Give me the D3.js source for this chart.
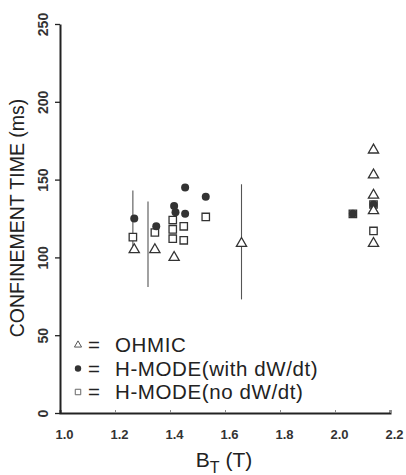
<!DOCTYPE html>
<html>
<head>
<meta charset="utf-8">
<script src="https://cdn.jsdelivr.net/npm/d3@7"></script>
<style>
body { margin: 0; background: #fff; }
svg { font-family: "Liberation Sans", Arial, sans-serif; }
</style>
</head>
<body>
<svg width="406" height="475"></svg>
<script>
var svg = d3.select("svg");

// data
var ohmicB = [1.27, 1.345, 1.415, 1.66, 2.14, 2.14, 2.14, 2.14, 2.14];
var ohmicT = [105, 105, 100, 109, 169, 153, 140, 130, 109];

var dwB = [1.27, 1.35, 1.415, 1.42, 1.455, 1.455, 1.53, 2.065, 2.14];
var dwT = [125, 120, 133, 129, 145, 128, 139, 128, 134];

var noB = [1.265, 1.345, 1.41, 1.41, 1.41, 1.45, 1.45, 1.53, 2.065, 2.14, 2.14];
var noT = [113, 116, 124, 118, 112, 120, 111, 126, 128, 134, 117];

var errB = [1.265, 1.32, 1.66];
var errLo = [107, 81, 73];
var errHi = [143, 136, 147];

var xTicks = [1.0, 1.2, 1.4, 1.6, 1.8, 2.0, 2.2];
var yTicks = [0, 50, 100, 150, 200, 250];

var x = d3.scaleLinear().domain([1.0, 2.2]).range([60, 390]);
var y = d3.scaleLinear().domain([0, 250]).range([413, 24]);

var ink = "#222";

// axes
var xAxis = svg.append("g")
    .attr("transform", "translate(0," + y(0) + ")")
    .call(d3.axisBottom(x).tickValues(xTicks).tickSize(-3).tickPadding(17)
      .tickFormat(d3.format(".1f")));
xAxis.select(".domain").attr("stroke", ink).attr("stroke-width", 2);
xAxis.selectAll(".tick line").attr("stroke", "#888");
xAxis.selectAll(".tick text")
    .attr("font-size", 13).attr("font-weight", "bold").attr("fill", "#333")
    .attr("dx", 4);

var yAxis = svg.append("g")
    .attr("transform", "translate(" + x(1.0) + ",0)")
    .call(d3.axisLeft(y).tickValues(yTicks).tickSize(5).tickSizeOuter(0).tickPadding(0)
      .tickFormat(d3.format("d")));
yAxis.select(".domain").attr("stroke", ink).attr("stroke-width", 2);
yAxis.selectAll(".tick line").attr("stroke", ink).attr("stroke-width", 1.3);
yAxis.selectAll(".tick text")
    .attr("font-size", 14).attr("font-weight", "bold").attr("fill", "#333")
    .attr("x", 0)
    .attr("text-anchor", "middle")
    .attr("transform", "translate(-17,0) rotate(-90)")
    .attr("dy", "0.35em");

// axis titles
svg.append("text")
    .attr("transform", "translate(24,218) rotate(-90)")
    .attr("text-anchor", "middle")
    .attr("font-size", 19.5)
    .attr("fill", ink)
    .text("CONFINEMENT TIME (ms)");

var xt = svg.append("text")
    .attr("x", 224).attr("y", 467)
    .attr("text-anchor", "middle")
    .attr("font-size", 21)
    .attr("fill", ink);
xt.append("tspan").text("B");
xt.append("tspan").attr("font-size", 16).attr("dy", 6).text("T");
xt.append("tspan").attr("dy", -6).text(" (T)");

// error bars
svg.append("g").selectAll("line")
  .data(errB.map(function(b, i) { return [b, errLo[i], errHi[i]]; }))
  .enter().append("line")
    .attr("x1", function(d) { return x(d[0]); })
    .attr("x2", function(d) { return x(d[0]); })
    .attr("y1", function(d) { return y(d[1]); })
    .attr("y2", function(d) { return y(d[2]); })
    .attr("stroke", "#555")
    .attr("stroke-width", 1.1);

var tri = d3.symbol().type(d3.symbolTriangle);
var sq = d3.symbol().type(d3.symbolSquare);

// open squares
svg.append("g").selectAll("path")
  .data(noB.map(function(b, i) { return [b, noT[i]]; }))
  .enter().append("path")
    .attr("transform", function(d) { return "translate(" + x(d[0]) + "," + y(d[1]) + ")"; })
    .attr("d", sq.size(55)())
    .attr("fill", "#fff")
    .attr("stroke", "#333")
    .attr("stroke-width", 1.3);

// filled dots
svg.append("g").selectAll("circle")
  .data(dwB.map(function(b, i) { return [b, dwT[i]]; }))
  .enter().append("circle")
    .attr("cx", function(d) { return x(d[0]); })
    .attr("cy", function(d) { return y(d[1]); })
    .attr("r", 4)
    .attr("fill", "#333");

// open triangles
svg.append("g").selectAll("path")
  .data(ohmicB.map(function(b, i) { return [b, ohmicT[i]]; }))
  .enter().append("path")
    .attr("transform", function(d) { return "translate(" + x(d[0]) + "," + y(d[1]) + ")"; })
    .attr("d", tri.size(45)())
    .attr("fill", "#fff")
    .attr("stroke", "#333")
    .attr("stroke-width", 1.3);

// legend
var legendLabels = ["OHMIC", "H-MODE(with dW/dt)", "H-MODE(no dW/dt)"];
var leg = svg.append("g");
var rows = leg.selectAll("g").data(legendLabels).enter().append("g")
    .attr("transform", function(d, i) { return "translate(78," + (345 + i * 23.5) + ")"; });
rows.append("text")
    .attr("x", 10).attr("y", 7)
    .attr("font-size", 20.5)
    .attr("fill", ink)
    .text("=");
rows.append("text")
    .attr("x", 37).attr("y", 7)
    .attr("font-size", 20.5)
    .attr("letter-spacing", 0.6)
    .attr("fill", ink)
    .text(function(d) { return d; });
rows.filter(function(d, i) { return i === 0; }).append("path")
    .attr("d", tri.size(22)()).attr("fill", "none").attr("stroke", "#555").attr("stroke-width", 1);
rows.filter(function(d, i) { return i === 1; }).append("circle")
    .attr("r", 3.2).attr("fill", "#333");
rows.filter(function(d, i) { return i === 2; }).append("path")
    .attr("d", sq.size(30)()).attr("fill", "none").attr("stroke", "#666").attr("stroke-width", 1);
</script>
</body>
</html>
